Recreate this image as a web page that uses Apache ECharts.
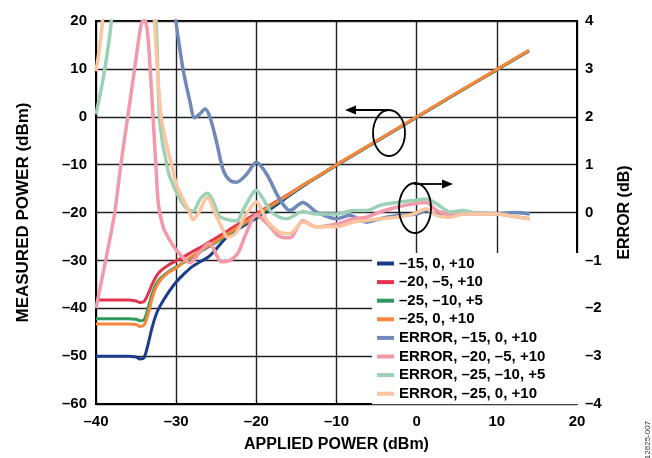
<!DOCTYPE html>
<html>
<head>
<meta charset="utf-8">
<script src="https://cdn.jsdelivr.net/npm/echarts@6/dist/echarts.min.js"></script>
<style>
html,body{margin:0;padding:0;background:#fff}
#chart{width:652px;height:458px}
</style>
</head>
<body>
<div id="chart"></div>
<script>
// applied power (dBm), shared by the four measured curves
var applied = [-40, -38, -36, -35, -34.5, -34, -33.5, -33, -32.5, -32, -31, -30, -29, -28, -27, -26, -25, -24, -23, -22, -21, -20, -18, -16, -14, -12, -10, -5, 0, 5, 10, 14];
var meas15 = [-50, -50, -50, -50.2, -50.6, -50.3, -47.5, -44, -41.3, -39.5, -36.8, -34.5, -32.8, -31.3, -30.3, -29.3, -27.6, -25.7, -24.3, -23.2, -22.2, -21.2, -19, -16.6, -14.3, -12.2, -10.1, -5.1, -0.1, 4.9, 9.8, 13.8];
var meas20 = [-38.3, -38.3, -38.3, -38.5, -38.8, -38.6, -37, -35, -33.4, -32.3, -31, -30.1, -29.2, -28.2, -27.3, -26.3, -25.3, -24.3, -23.2, -22.2, -21.2, -20.2, -18.2, -16.2, -14.1, -12.1, -10.1, -5.1, -0.1, 4.9, 9.8, 13.8];
var meas25a = [-42.2, -42.2, -42.2, -42.3, -42.6, -42.4, -40, -37, -35, -33.8, -32.4, -31.4, -30.4, -29.3, -28.2, -27.2, -26.2, -25.1, -24, -22.9, -21.8, -20.8, -18.6, -16.4, -14.2, -12.1, -10.1, -5.1, -0.1, 4.9, 9.8, 13.8];
var meas25b = [-43.3, -43.3, -43.3, -43.4, -43.8, -43.5, -41.2, -38, -35.6, -34.2, -32.6, -31.6, -30.2, -29.1, -28, -27, -26, -24.9, -23.8, -22.7, -21.6, -20.6, -18.4, -16.3, -14.1, -12.1, -10, -5, 0, 5, 9.9, 13.9];

// error curves (dB), each with its own applied-power points
var errX15 = [-30.4, -30, -29.5, -29.1, -28.3, -27.7, -27.1, -26.4, -25.8, -25, -24.1, -23.3, -22.5, -21.2, -20, -18.7, -17.1, -15.8, -14.2, -12.5, -10, -8.4, -6.3, -4.6, -2.5, 0, 1.2, 2.5, 4.6, 8, 10, 12, 14.1];
var err15 = [4.8, 3.96, 3.37, 2.95, 2.33, 1.98, 2.05, 2.16, 2.0, 1.5, 0.87, 0.67, 0.63, 0.8, 1.05, 0.8, 0.28, 0.04, 0.21, 0.01, -0.13, -0.06, -0.2, -0.13, -0.06, -0.03, 0.04, -0.03, -0.03, -0.02, -0.03, 0.0, -0.03];

var errX20 = [-40, -38.8, -37.7, -36.9, -36, -35.1, -34.4, -34, -33.6, -33.2, -32.9, -32.5, -32.2, -31.6, -30.9, -30, -28.8, -28.3, -27.1, -25.9, -24.3, -23.3, -22.3, -21.3, -20, -18.6, -17.1, -15.8, -14.2, -12.5, -10, -7.9, -6.3, -4.6, -2.5, -0.4, 1.2, 2.5, 4.2, 5.8, 7.9, 10, 12, 14.1];
var err20 = [-2.0, -1.0, -0.04, 1.0, 2.04, 3.1, 3.9, 4.05, 3.8, 2.9, 2.04, 0.9, 0.15, -0.32, -0.55, -0.78, -1.0, -1.05, -0.84, -0.64, -1.03, -1.0, -0.85, -0.45, -0.05, -0.24, -0.5, -0.53, -0.17, -0.3, -0.24, -0.13, -0.1, 0.01, 0.11, 0.18, 0.21, 0.04, -0.03, 0.01, -0.03, -0.03, -0.08, -0.13];

var errX25a = [-40, -39, -38.1, -37.5, -33.2, -32.5, -32.1, -31.7, -31.4, -30.9, -30.2, -29.6, -28.8, -27.9, -27, -26.1, -25.3, -24.6, -23.5, -22.5, -21.5, -20, -19.2, -18.3, -17.1, -16.2, -14.2, -12.5, -10, -7.9, -6.3, -4.6, -2.5, -0.4, 1.2, 2.5, 4.2, 5.8, 7.9, 10, 12, 14.1];
var err25a = [2.05, 2.9, 3.98, 5.5, 5.5, 3.98, 2.04, 1.45, 1.2, 0.8, 0.51, 0.3, 0.1, 0.03, 0.28, 0.4, 0.2, -0.08, -0.15, -0.18, 0.1, 0.46, 0.3, 0.04, -0.1, -0.13, 0.02, -0.03, -0.03, 0.04, 0.04, 0.15, 0.21, 0.25, 0.28, 0.18, 0.01, 0.04, -0.03, -0.03, -0.08, -0.13];

var errX25b = [-40, -39.6, -39.2, -38.8, -33.2, -32.7, -31.9, -31.1, -30.5, -30, -29.2, -28.3, -27.9, -27.2, -26.1, -25.2, -24.2, -23.6, -22.5, -21.5, -20, -18.7, -17.1, -15.8, -14.2, -12.5, -10, -7.9, -6.3, -4.6, -2.5, -0.4, 1.2, 2.5, 4.2, 5.8, 7.9, 10, 12, 14.1];
var err25b = [2.95, 3.4, 3.98, 5.5, 5.5, 3.98, 2.04, 1.35, 0.95, 0.6, 0.3, 0.0, -0.15, 0.0, 0.32, 0.0, -0.35, -0.52, -0.42, -0.1, 0.22, -0.17, -0.41, -0.44, -0.2, -0.3, -0.3, -0.2, -0.17, -0.13, -0.1, -0.03, 0.08, -0.06, -0.1, -0.03, -0.03, -0.03, -0.08, -0.13];

var names = ['\u201315, 0, +10', '\u201320, \u20135, +10', '\u201325, \u201310, +5', '\u201325, 0, +10',
  'ERROR, \u201315, 0, +10', 'ERROR, \u201320, \u20135, +10', 'ERROR, \u201325, \u201310, +5', 'ERROR, \u201325, 0, +10'];
var colors = ['#1a3c89', '#e2334f', '#2f9a5e', '#f7873b', '#6f89b9', '#f299aa', '#9dd1b5', '#fdc4a0'];

var FONT = 'Arial, "Liberation Sans", sans-serif';

function zip(xs, ys) {
  return xs.map(function (x, i) { return [x, ys[i]]; });
}
function dash(v) {
  return String(v).replace('-', '\u2013');
}

var chart = echarts.init(document.getElementById('chart'));

var measured = [meas15, meas20, meas25a, meas25b].map(function (ys, i) {
  return {
    name: names[i], type: 'line', yAxisIndex: 0, smooth: 0.3, showSymbol: false,
    color: colors[i], lineStyle: {width: 3}, data: zip(applied, ys)
  };
});
var errors = [[errX15, err15], [errX20, err20], [errX25a, err25a], [errX25b, err25b]].map(function (p, i) {
  return {
    name: names[i + 4], type: 'line', yAxisIndex: 1, smooth: 0.3, showSymbol: false,
    color: colors[i + 4], lineStyle: {width: 3.5}, data: zip(p[0], p[1])
  };
});

var labelStyle = {color: '#000', fontWeight: 'bold', fontSize: 15, fontFamily: FONT};

var option = {
  animation: false,
  backgroundColor: '#fff',
  grid: {left: 96, right: 75, top: 21, bottom: 52, show: true, borderColor: '#000', borderWidth: 2},
  legend: {
    data: names, orient: 'vertical', left: 372, top: 253,
    backgroundColor: '#fff', padding: [3, 40, 3, 5],
    icon: 'rect', itemWidth: 17, itemHeight: 4, itemGap: 3.6,
    textStyle: {color: '#000', fontWeight: 'bold', fontSize: 15, fontFamily: FONT, lineHeight: 15}
  },
  xAxis: {
    type: 'value', min: -40, max: 20, interval: 10,
    name: 'APPLIED POWER (dBm)', nameLocation: 'middle', nameGap: 33,
    nameTextStyle: {color: '#000', fontWeight: 'bold', fontSize: 16, fontFamily: FONT},
    axisLine: {onZero: false, lineStyle: {color: '#000', width: 2}},
    axisTick: {show: true, inside: true, length: 4, lineStyle: {color: '#000'}},
    axisLabel: Object.assign({margin: 10, formatter: dash}, labelStyle),
    splitLine: {lineStyle: {color: '#222', width: 1.4}}
  },
  yAxis: [{
    type: 'value', min: -60, max: 20, interval: 10,
    name: 'MEASURED POWER (dBm)', nameLocation: 'middle', nameGap: 64,
    nameTextStyle: {color: '#000', fontWeight: 'bold', fontSize: 17, fontFamily: FONT},
    axisLine: {onZero: false, lineStyle: {color: '#000', width: 2}},
    axisTick: {show: false},
    axisLabel: Object.assign({margin: 9, formatter: dash}, labelStyle),
    splitLine: {lineStyle: {color: '#222', width: 1.4}}
  }, {
    type: 'value', min: -4, max: 4, interval: 1, position: 'right',
    name: 'ERROR (dB)', nameLocation: 'middle', nameGap: 40, nameRotate: 90,
    nameTextStyle: {color: '#000', fontWeight: 'bold', fontSize: 16, fontFamily: FONT},
    axisLine: {show: true, onZero: false, lineStyle: {color: '#000', width: 2}},
    axisTick: {show: false},
    axisLabel: Object.assign({margin: 8, formatter: dash}, labelStyle),
    splitLine: {show: false}
  }],
  graphic: [
    // left-pointing marker: measured power curves read on the left axis
    {type: 'ellipse', shape: {cx: 389, cy: 133, rx: 16, ry: 23}, style: {fill: 'none', stroke: '#000', lineWidth: 1.8}, z: 10},
    {type: 'line', shape: {x1: 389, y1: 110, x2: 354, y2: 110}, style: {stroke: '#000', lineWidth: 1.8}, z: 10},
    {type: 'polygon', shape: {points: [[345, 110], [356, 105.5], [356, 114.5]]}, style: {fill: '#000'}, z: 10},
    // right-pointing marker: error curves read on the right axis
    {type: 'ellipse', shape: {cx: 415, cy: 208, rx: 16, ry: 25}, style: {fill: 'none', stroke: '#000', lineWidth: 1.8}, z: 10},
    {type: 'line', shape: {x1: 414, y1: 184, x2: 443, y2: 184}, style: {stroke: '#000', lineWidth: 1.8}, z: 10},
    {type: 'polygon', shape: {points: [[453, 184], [442, 179.5], [442, 188.5]]}, style: {fill: '#000'}, z: 10},
    {type: 'text', x: 648, y: 440, rotation: Math.PI / 2,
      style: {text: '12625-007', fill: '#333', fontSize: 8, fontFamily: FONT, align: 'center', verticalAlign: 'middle'}}
  ],
  series: measured.concat(errors)
};

chart.setOption(option);
</script>
</body>
</html>
